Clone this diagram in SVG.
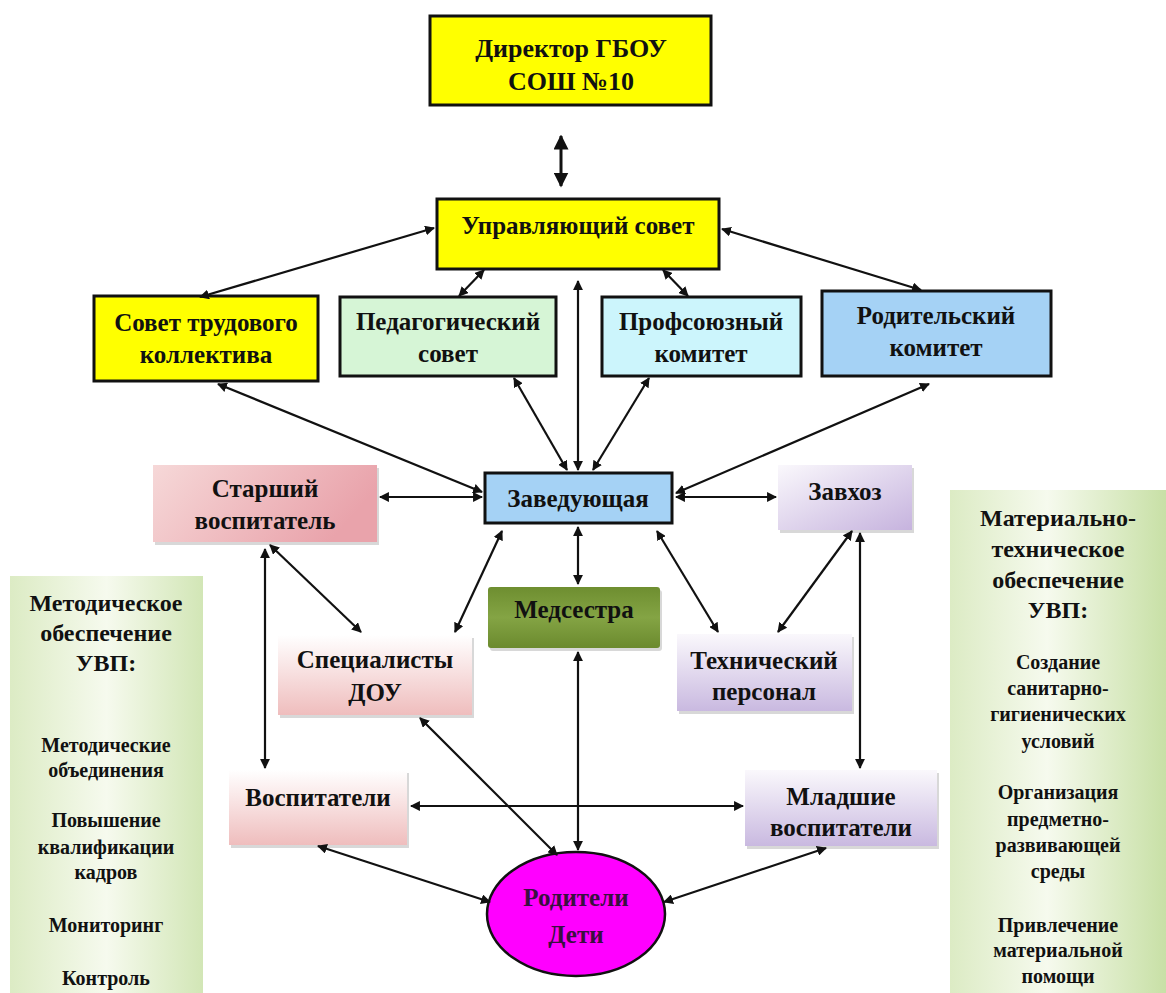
<svg xmlns="http://www.w3.org/2000/svg" width="1166" height="993" viewBox="0 0 1166 993">
<defs>
<style>
text{font-family:"Liberation Serif","Times New Roman",serif;font-weight:bold;fill:#111;text-anchor:middle}
.n{font-size:25px}
.p{font-size:20px}
.h{font-size:24px}
.bx{stroke:#111;stroke-width:3}
.sh{fill:#D8D8D8}
.c line{stroke:#111;stroke-width:2.2;marker-start:url(#a);marker-end:url(#a)}
.c line.t{stroke-width:3}
</style>
<marker id="a" viewBox="0 0 10 10" refX="9" refY="5" markerWidth="4.5" markerHeight="4.5" orient="auto-start-reverse" markerUnits="strokeWidth">
<path d="M0,0 L10,5 L0,10 z" fill="#111"/>
</marker>
<marker id="b" viewBox="0 0 10 10" refX="9" refY="5" markerWidth="5" markerHeight="5" orient="auto-start-reverse" markerUnits="strokeWidth">
<path d="M0,0 L10,5 L0,10 z" fill="#111"/>
</marker>
<linearGradient id="pink1" x1="0" y1="0" x2="1" y2="0.3">
<stop offset="0" stop-color="#F6D8D8"/><stop offset="1" stop-color="#E9A3AB"/>
</linearGradient>
<linearGradient id="pink2" x1="0" y1="0" x2="0" y2="1">
<stop offset="0" stop-color="#FFFFFF"/><stop offset="1" stop-color="#EFBDBD"/>
</linearGradient>
<linearGradient id="lav" x1="0" y1="0" x2="0" y2="1">
<stop offset="0" stop-color="#FAF8FC"/><stop offset="1" stop-color="#C9B9E0"/>
</linearGradient>
<linearGradient id="lav2" x1="0" y1="0" x2="1" y2="1">
<stop offset="0" stop-color="#FAF8FC"/><stop offset="1" stop-color="#C6B3DE"/>
</linearGradient>
<linearGradient id="olive" x1="0" y1="0" x2="0" y2="1">
<stop offset="0" stop-color="#6E8E30"/><stop offset="0.5" stop-color="#84A444"/><stop offset="1" stop-color="#6B8A2E"/>
</linearGradient>
<linearGradient id="grn" x1="0" y1="0" x2="1" y2="0">
<stop offset="0" stop-color="#DCEBC4"/><stop offset="0.5" stop-color="#F6FAEE"/><stop offset="1" stop-color="#D2E6B6"/>
</linearGradient>
<linearGradient id="grnR" x1="0" y1="0" x2="1" y2="0">
<stop offset="0" stop-color="#DCEBC4"/><stop offset="0.45" stop-color="#F6FAEE"/><stop offset="1" stop-color="#C8E0A6"/>
</linearGradient>
</defs>
<rect width="1166" height="993" fill="#FFFFFF"/>

<g id="panel-left">
<rect x="10" y="576" width="193" height="417" fill="url(#grn)"/>
<text class="h" x="106" y="611">Методическое</text>
<text class="h" x="106" y="641">обеспечение</text>
<text class="h" x="106" y="671">УВП:</text>
<text class="p" x="106" y="752">Методические</text>
<text class="p" x="106" y="777">объединения</text>
<text class="p" x="106" y="827">Повышение</text>
<text class="p" x="106" y="854">квалификации</text>
<text class="p" x="106" y="879">кадров</text>
<text class="p" x="106" y="932">Мониторинг</text>
<text class="p" x="106" y="985">Контроль</text>
</g>

<g id="panel-right">
<rect x="950" y="490" width="216" height="503" fill="url(#grnR)"/>
<text class="h" x="1058" y="526">Материально-</text>
<text class="h" x="1058" y="557">техническое</text>
<text class="h" x="1058" y="588">обеспечение</text>
<text class="h" x="1058" y="618">УВП:</text>
<text class="p" x="1058" y="669">Создание</text>
<text class="p" x="1058" y="695">санитарно-</text>
<text class="p" x="1058" y="721">гигиенических</text>
<text class="p" x="1058" y="748">условий</text>
<text class="p" x="1058" y="799">Организация</text>
<text class="p" x="1058" y="826">предметно-</text>
<text class="p" x="1058" y="852">развивающей</text>
<text class="p" x="1058" y="878">среды</text>
<text class="p" x="1058" y="932">Привлечение</text>
<text class="p" x="1058" y="957">материальной</text>
<text class="p" x="1058" y="983">помощи</text>
</g>

<g id="director">
<rect class="bx" x="430" y="16" width="281" height="89" fill="#FFFF00"/>
<text x="571" y="57" style="font-size:26px">Директор ГБОУ</text>
<text x="571" y="90" style="font-size:26px">СОШ №10</text>
</g>

<g id="council">
<rect class="bx" x="437" y="199" width="282" height="70" fill="#FFFF00"/>
<text class="n" x="578" y="234">Управляющий совет</text>
</g>

<g id="labor-council">
<rect class="bx" x="94" y="296" width="224" height="85" fill="#FFFF00"/>
<text class="n" x="206" y="331">Совет трудового</text>
<text class="n" x="206" y="363">коллектива</text>
</g>

<g id="ped-council">
<rect class="bx" x="340" y="297" width="216" height="79" fill="#D6F5D6"/>
<text class="n" x="448" y="330">Педагогический</text>
<text class="n" x="448" y="362">совет</text>
</g>

<g id="union">
<rect class="bx" x="602" y="297" width="199" height="79" fill="#CCF5FC"/>
<text class="n" x="701" y="330">Профсоюзный</text>
<text class="n" x="701" y="362">комитет</text>
</g>

<g id="parents-committee">
<rect class="bx" x="822" y="291" width="229" height="85" fill="#A5D2F5"/>
<text class="n" x="936" y="324">Родительский</text>
<text class="n" x="936" y="356">комитет</text>
</g>

<g id="head">
<rect class="bx" x="485" y="473" width="187" height="50" fill="#A5D2F5"/>
<text class="n" x="578" y="507">Заведующая</text>
</g>

<g id="senior">
<rect class="sh" x="155" y="468" width="224" height="77"/>
<rect x="153" y="465" width="224" height="77" fill="url(#pink1)"/>
<text class="n" x="265" y="497">Старший</text>
<text class="n" x="265" y="529">воспитатель</text>
</g>

<g id="supply">
<rect class="sh" x="780" y="468" width="134" height="65"/>
<rect x="778" y="465" width="134" height="65" fill="url(#lav2)"/>
<text class="n" x="845" y="500">Завхоз</text>
</g>

<g id="nurse">
<rect class="sh" x="490" y="590" width="172" height="61" rx="3"/>
<rect x="488" y="587" width="172" height="61" rx="3" fill="url(#olive)"/>
<text class="n" x="574" y="618">Медсестра</text>
</g>

<g id="specialists">
<rect class="sh" x="280" y="638" width="194" height="80"/>
<rect x="278" y="635" width="194" height="80" fill="url(#pink2)"/>
<text class="n" x="375" y="668">Специалисты</text>
<text class="n" x="375" y="701">ДОУ</text>
</g>

<g id="tech">
<rect class="sh" x="679" y="637" width="175" height="77"/>
<rect x="677" y="634" width="175" height="77" fill="url(#lav)"/>
<text class="n" x="764" y="669">Технический</text>
<text class="n" x="764" y="700">персонал</text>
</g>

<g id="educators">
<rect class="sh" x="231" y="773" width="178" height="75"/>
<rect x="229" y="770" width="178" height="75" fill="url(#pink2)"/>
<text class="n" x="318" y="806">Воспитатели</text>
</g>

<g id="junior">
<rect class="sh" x="747" y="773" width="192" height="76"/>
<rect x="745" y="770" width="192" height="76" fill="url(#lav)"/>
<text class="n" x="841" y="805">Младшие</text>
<text class="n" x="841" y="836">воспитатели</text>
</g>

<g id="parents-children">
<ellipse cx="576" cy="914" rx="89" ry="62" fill="#FF00FF" stroke="#111" stroke-width="2.5"/>
<text x="576" y="906" style="fill:#3A1040;font-size:25px">Родители</text>
<text x="576" y="943" style="fill:#3A1040;font-size:25px">Дети</text>
</g>

<g class="c" id="connectors">
<line class="t" x1="561" y1="136" x2="561" y2="186" style="marker-start:url(#b);marker-end:url(#b)"/>
<line x1="434" y1="228" x2="200" y2="297"/>
<line x1="484" y1="270" x2="459" y2="296"/>
<line x1="663" y1="270" x2="688" y2="296"/>
<line x1="722" y1="229" x2="921" y2="290"/>
<line x1="578" y1="281" x2="578" y2="470"/>
<line x1="514" y1="378" x2="567" y2="470"/>
<line x1="649" y1="378" x2="593" y2="470"/>
<line x1="218" y1="384" x2="482" y2="492"/>
<line x1="929" y1="384" x2="676" y2="493"/>
<line x1="380" y1="497" x2="482" y2="497"/>
<line x1="676" y1="497" x2="776" y2="497"/>
<line x1="578" y1="527" x2="578" y2="584"/>
<line x1="502" y1="531" x2="455" y2="632"/>
<line x1="657" y1="531" x2="718" y2="632"/>
<line x1="852" y1="531" x2="778" y2="632"/>
<line x1="270" y1="545" x2="361" y2="632"/>
<line x1="265" y1="549" x2="265" y2="768"/>
<line x1="860" y1="533" x2="860" y2="768"/>
<line x1="578" y1="652" x2="578" y2="850"/>
<line x1="420" y1="718" x2="557" y2="855"/>
<line x1="411" y1="806" x2="743" y2="806"/>
<line x1="318" y1="846" x2="490" y2="902"/>
<line x1="826" y1="848" x2="664" y2="902"/>
</g>
</svg>
